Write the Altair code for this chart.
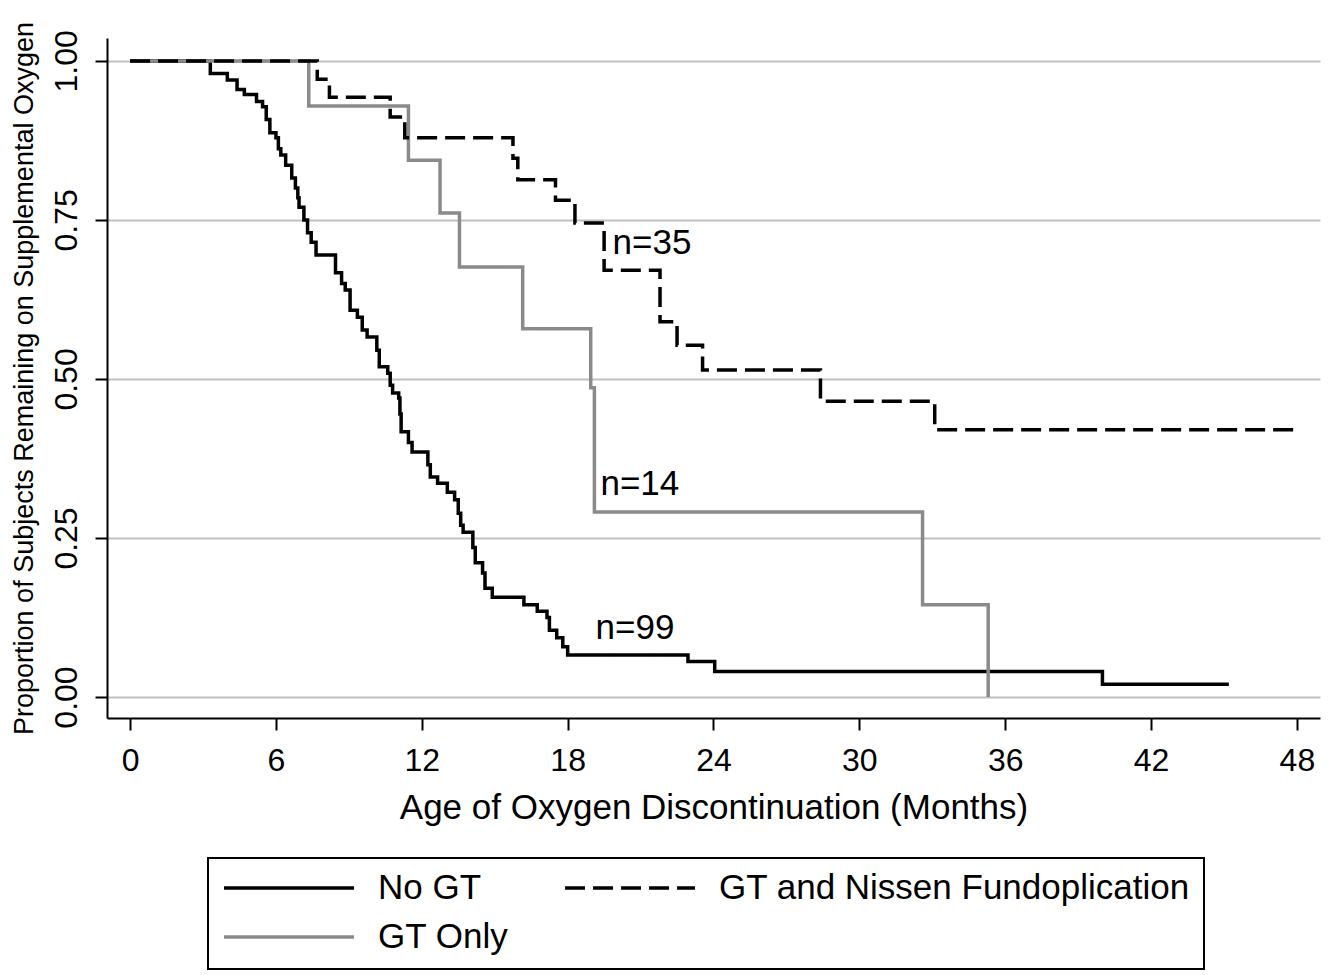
import altair as alt
import pandas as pd

FONT = "Liberation Sans, Arial, Helvetica, sans-serif"

# ---- data (Kaplan-Meier steps: time in months, proportion) ----
no_gt_months = [0, 3.3, 4.0, 4.4, 4.7, 5.2, 5.45, 5.6, 5.75, 6.0, 6.1, 6.2, 6.4, 6.65, 6.8,
                6.9, 6.95, 7.15, 7.3, 7.45, 7.65, 8.45, 8.7, 8.85, 9.05, 9.35, 9.55, 9.75,
                10.15, 10.25, 10.6, 10.7, 10.8, 11.05, 11.1, 11.15, 11.45, 11.6, 12.25, 12.35,
                12.65, 13.05, 13.35, 13.5, 13.6, 13.7, 14.1, 14.2, 14.5, 14.6, 14.9, 16.2,
                16.75, 17.15, 17.25, 17.55, 17.8, 18.0, 22.95, 24.05, 40.0, 45.2]
no_gt_prop = [1.0, 0.98, 0.97, 0.955, 0.947, 0.936, 0.928, 0.908, 0.887, 0.879, 0.862, 0.852,
              0.836, 0.816, 0.80, 0.785, 0.77, 0.75, 0.73, 0.715, 0.695, 0.667, 0.65, 0.64,
              0.608, 0.597, 0.577, 0.566, 0.545, 0.519, 0.509, 0.49, 0.478, 0.47, 0.445, 0.417,
              0.40, 0.385, 0.365, 0.346, 0.336, 0.322, 0.31, 0.289, 0.27, 0.259, 0.235, 0.211,
              0.195, 0.171, 0.157, 0.145, 0.135, 0.125, 0.105, 0.093, 0.079, 0.066, 0.056,
              0.04, 0.02, 0.02]

gt_only_months = [0, 7.35, 11.45, 12.75, 13.55, 16.15, 18.95, 19.1, 32.6, 35.3]
gt_only_prop = [1.0, 0.929, 0.844, 0.761, 0.676, 0.579, 0.486, 0.291, 0.145, 0.0]

gt_nissen_months = [0, 7.7, 8.2, 10.7, 11.3, 15.75, 15.95, 17.5, 18.3, 19.5, 21.8, 22.5,
                    23.55, 28.4, 33.1, 48.0]
gt_nissen_prop = [1.0, 0.971, 0.943, 0.912, 0.879, 0.847, 0.813, 0.781, 0.745, 0.671, 0.59,
                  0.553, 0.514, 0.465, 0.42, 0.42]

series_names = ["No GT", "GT Only", "GT and Nissen Fundoplication"]
legend_order = ["No GT", "GT and Nissen Fundoplication", "GT Only"]
legend_colors = ["#000000", "#000000", "#8a8a8a"]
legend_dashes = [[1, 0], [20, 8], [1, 0]]

n_labels = ["n=35", "n=14", "n=99"]
n_label_months = [19.85, 19.35, 19.15]
n_label_prop = [0.714, 0.335, 0.108]

x_ticks = [0, 6, 12, 18, 24, 30, 36, 42, 48]
y_ticks = [0.0, 0.25, 0.5, 0.75, 1.0]

rows = []
for name, ms, ps in zip(series_names,
                        [no_gt_months, gt_only_months, gt_nissen_months],
                        [no_gt_prop, gt_only_prop, gt_nissen_prop]):
    for i, (m, p) in enumerate(zip(ms, ps)):
        rows.append({"group": name, "month": m, "prop": p, "idx": i})
df = pd.DataFrame(rows)

ann = pd.DataFrame({"label": n_labels, "month": n_label_months, "prop": n_label_prop})

x_scale = alt.Scale(domain=[-0.95, 48.95], nice=False, zero=False)
y_scale = alt.Scale(domain=[-0.033, 1.036], nice=False, zero=False)

lines = alt.Chart(df).mark_line(interpolate="step-after", strokeWidth=3.5).encode(
    x=alt.X("month:Q", scale=x_scale,
            axis=alt.Axis(title="Age of Oxygen Discontinuation (Months)", values=x_ticks,
                          grid=False, labelFlush=False, tickSize=12, labelPadding=15,
                          labelFontSize=32, titleFontSize=35, titlePadding=14)),
    y=alt.Y("prop:Q", scale=y_scale,
            axis=alt.Axis(title="Proportion of Subjects Remaining on Supplemental Oxygen",
                          values=y_ticks, format=".2f", grid=True, labelFlush=False,
                          tickSize=12, labelPadding=12, labelAngle=270, labelAlign="center",
                          labelBaseline="bottom", labelFontSize=32, titleFontSize=27,
                          titlePadding=12)),
    color=alt.Color("group:N", sort=legend_order,
                    scale=alt.Scale(domain=legend_order, range=legend_colors),
                    legend=alt.Legend(title=None)),
    strokeDash=alt.StrokeDash("group:N", sort=legend_order,
                              scale=alt.Scale(domain=legend_order, range=legend_dashes),
                              legend=alt.Legend(title=None)),
    detail="group:N",
    order="idx:Q",
)

labels = alt.Chart(ann).mark_text(align="left", baseline="middle", fontSize=35,
                                  font=FONT, color="black").encode(
    x=alt.X("month:Q", scale=x_scale),
    y=alt.Y("prop:Q", scale=y_scale),
    text="label:N",
)

chart = alt.layer(lines, labels).properties(
    width=1213, height=680,
    autosize=alt.AutoSizeParams(type="none"),
    padding={"left": 99, "top": 30, "right": 6, "bottom": 255},
    background="white",
).configure_view(stroke=None).configure_axis(
    labelFont=FONT, titleFont=FONT, labelColor="black", titleColor="black",
    titleFontWeight="normal", domainColor="black", domainWidth=2, tickColor="black",
    tickWidth=2, gridColor="#c0c0c0", gridWidth=2,
).configure_legend(
    orient="none", legendX=101, legendY=820, columns=2, direction="horizontal",
    symbolType="stroke", symbolSize=16900, symbolStrokeWidth=3.5, clipHeight=32,
    rowPadding=14, columnPadding=54, labelFontSize=35, labelFont=FONT, labelColor="black",
    labelOffset=22, labelLimit=1000, padding=14, strokeColor="black", strokeWidth=2,
)

chart.save("out.html", embed_options={"renderer": "svg", "actions": False})
